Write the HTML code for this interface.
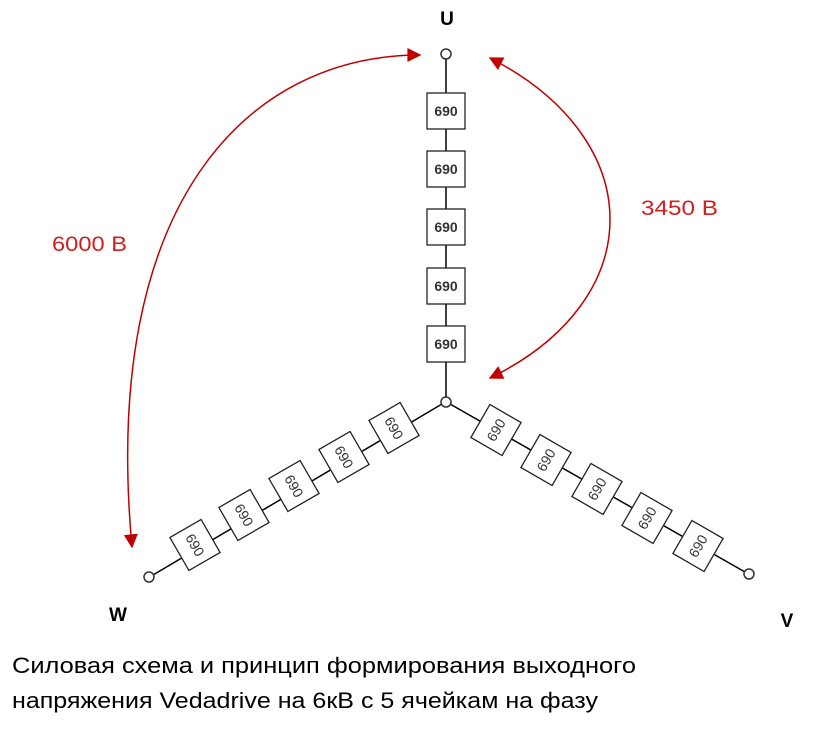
<!DOCTYPE html>
<html><head><meta charset="utf-8"><style>
body{margin:0;background:#fff;}
svg{display:block}
</style></head><body>
<svg width="817" height="729" viewBox="0 0 817 729" xmlns="http://www.w3.org/2000/svg">
<defs>
<marker id="a2" viewBox="0 0 10 10" refX="9" refY="5" markerWidth="22" markerHeight="14" orient="auto-start-reverse" markerUnits="userSpaceOnUse">
<path d="M0,0 L10,5 L0,10 z" fill="#c00000"/>
</marker>
</defs>
<g stroke="#000" stroke-width="1.5" fill="none">
<line x1="446" y1="58" x2="446" y2="398"/>
<line x1="442" y1="404" x2="153" y2="575"/>
<line x1="450" y1="404" x2="745" y2="572"/>
</g>
<g fill="#fff" stroke="#333" stroke-width="1.5">
<circle cx="446" cy="54" r="5"/>
<circle cx="446" cy="402" r="5"/>
<circle cx="149" cy="577" r="5"/>
<circle cx="749" cy="574" r="5"/>
</g>
<g font-family="Liberation Sans, sans-serif" font-size="14" font-weight="bold" fill="#333" text-anchor="middle">
<g stroke="#222" stroke-width="1.3">
<rect x="427" y="93" width="38" height="36" fill="#fff"/>
<rect x="427" y="151" width="38" height="36" fill="#fff"/>
<rect x="427" y="209" width="38" height="36" fill="#fff"/>
<rect x="427" y="268" width="38" height="36" fill="#fff"/>
<rect x="427" y="326" width="38" height="36" fill="#fff"/>
</g>
<text x="446" y="116">690</text><text x="446" y="174">690</text><text x="446" y="232">690</text><text x="446" y="291">690</text><text x="446" y="349">690</text>
<g transform="translate(394,428) rotate(60)"><rect x="-19" y="-18" width="38" height="36" fill="#fff" stroke="#222" stroke-width="1.3"/><text y="5" font-weight="normal">690</text></g>
<g transform="translate(344,457) rotate(60)"><rect x="-19" y="-18" width="38" height="36" fill="#fff" stroke="#222" stroke-width="1.3"/><text y="5" font-weight="normal">690</text></g>
<g transform="translate(294,486) rotate(60)"><rect x="-19" y="-18" width="38" height="36" fill="#fff" stroke="#222" stroke-width="1.3"/><text y="5" font-weight="normal">690</text></g>
<g transform="translate(244,515) rotate(60)"><rect x="-19" y="-18" width="38" height="36" fill="#fff" stroke="#222" stroke-width="1.3"/><text y="5" font-weight="normal">690</text></g>
<g transform="translate(195,545) rotate(60)"><rect x="-19" y="-18" width="38" height="36" fill="#fff" stroke="#222" stroke-width="1.3"/><text y="5" font-weight="normal">690</text></g>
<g transform="translate(496,430) rotate(-60)"><rect x="-19" y="-18" width="38" height="36" fill="#fff" stroke="#222" stroke-width="1.3"/><text y="5" font-weight="normal">690</text></g>
<g transform="translate(546,460) rotate(-60)"><rect x="-19" y="-18" width="38" height="36" fill="#fff" stroke="#222" stroke-width="1.3"/><text y="5" font-weight="normal">690</text></g>
<g transform="translate(597,489) rotate(-60)"><rect x="-19" y="-18" width="38" height="36" fill="#fff" stroke="#222" stroke-width="1.3"/><text y="5" font-weight="normal">690</text></g>
<g transform="translate(647,518) rotate(-60)"><rect x="-19" y="-18" width="38" height="36" fill="#fff" stroke="#222" stroke-width="1.3"/><text y="5" font-weight="normal">690</text></g>
<g transform="translate(698,546) rotate(-60)"><rect x="-19" y="-18" width="38" height="36" fill="#fff" stroke="#222" stroke-width="1.3"/><text y="5" font-weight="normal">690</text></g>
</g>
<g stroke="#c00000" stroke-width="1.5" fill="none">
<path d="M420,55 C250,55 100,200 132,547" marker-start="url(#a2)" marker-end="url(#a2)"/>
<path d="M490,58 C650,140 650,300 490,378" marker-start="url(#a2)" marker-end="url(#a2)"/>
</g>
<g font-family="Liberation Sans, sans-serif" fill="#d02020" font-size="21">
<text x="52" y="251" textLength="75" lengthAdjust="spacingAndGlyphs">6000 В</text>
<text x="641" y="215" textLength="77" lengthAdjust="spacingAndGlyphs">3450 В</text>
</g>
<g font-family="Liberation Sans, sans-serif" font-weight="bold" font-size="19" fill="#000" text-anchor="middle">
<text x="447" y="25">U</text>
<text x="118" y="621">W</text>
<text x="787" y="627">V</text>
</g>
<g font-family="Liberation Sans, sans-serif" font-size="22" fill="#000">
<text x="12" y="673" textLength="624" lengthAdjust="spacingAndGlyphs">Силовая схема и принцип формирования выходного</text>
<text x="12" y="708" textLength="586" lengthAdjust="spacingAndGlyphs">напряжения Vedadrive на 6кВ с 5 ячейкам на фазу</text>
</g>
</svg>
</body></html>
